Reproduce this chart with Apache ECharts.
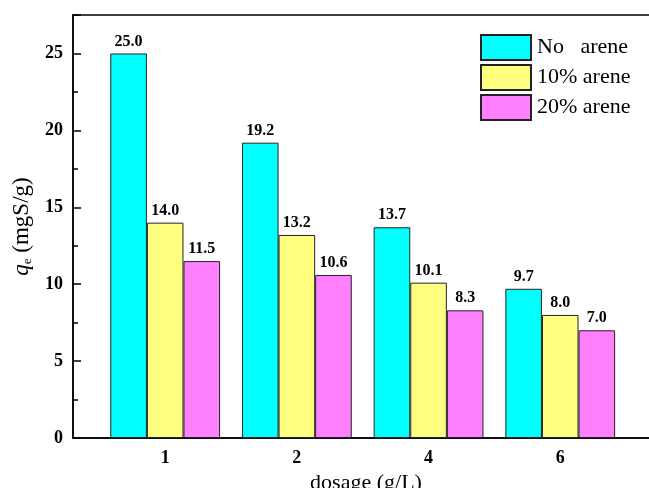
<!DOCTYPE html>
<html>
<head>
<meta charset="utf-8">
<script src="https://cdn.jsdelivr.net/npm/echarts@6/dist/echarts.min.js"></script>
<style>html,body{margin:0;padding:0;background:#fff}#c{width:649px;height:488px}</style>
</head>
<body>
<div id="c"></div>
<script>
const categories = ['1', '2', '4', '6'];
const seriesNames = ['No   arene', '10% arene', '20% arene'];
const noArene = [25.0, 19.2, 13.7, 9.7];
const arene10 = [14.0, 13.2, 10.1, 8.0];
const arene20 = [11.5, 10.6, 8.3, 7.0];
const yTicks = [0, 5, 10, 15, 20, 25];

const colors = ['#00FFFF', '#FFFF80', '#FF80FF'];
const F = 'Liberation Serif, Times New Roman, serif';
const positions = categories.map((c, i) => i + 1);

function mk(name, vals, color) {
  return {
    name: name,
    type: 'bar',
    barWidth: 36.6,
    barGap: '0%',
    data: vals.map((v, i) => [positions[i], v]),
    itemStyle: { color: color, borderColor: '#222', borderWidth: 1 },
    label: {
      show: true, position: 'top', distance: 4,
      fontFamily: F, fontWeight: 'bold', fontSize: 16, color: '#000',
      formatter: p => p.value[1].toFixed(1)
    }
  };
}

const chart = echarts.init(document.getElementById('c'));
chart.setOption({
  animation: false,
  backgroundColor: '#fff',
  grid: { left: 73, top: 15, bottom: 50, right: -10, show: true, borderColor: '#000', borderWidth: 1.5, containLabel: false, outerBoundsMode: 'none' },
  legend: {
    orient: 'vertical', left: 480, top: 34, padding: 0,
    itemWidth: 50, itemHeight: 25, itemGap: 3,
    icon: 'rect',
    textStyle: { fontFamily: F, fontSize: 22, color: '#000', padding: [0, 0, 0, 1] },
    data: seriesNames
  },
  xAxis: {
    type: 'value', min: 0.3, max: 4.75,
    name: 'dosage (g/L)', nameLocation: 'middle', nameGap: 31,
    nameTextStyle: { fontFamily: F, fontSize: 22, color: '#000' },
    axisLine: { show: true, lineStyle: { color: '#000', width: 1.5 } },
    axisTick: { show: false },
    splitLine: { show: false },
    axisLabel: {
      customValues: positions,
      formatter: v => categories[Math.round(v) - 1] || '',
      fontFamily: F, fontWeight: 'bold', fontSize: 18, color: '#000', margin: 11
    }
  },
  yAxis: {
    type: 'value', min: 0, max: 27.5, interval: 5,
    name: '{q|q}{e|e} (mgS/g)', nameLocation: 'middle', nameGap: 38,
    nameTextStyle: {
      fontFamily: F, fontSize: 23, color: '#000',
      rich: {
        q: { fontFamily: F, fontSize: 23, fontStyle: 'italic', color: '#000' },
        e: { fontFamily: F, fontSize: 13, color: '#000', padding: [12, 0, 0, 0] }
      }
    },
    axisLine: { show: true, lineStyle: { color: '#000', width: 1.5 } },
    axisTick: { show: true, inside: true, length: 8, lineStyle: { color: '#000', width: 1.5 } },
    minorTick: { show: true, splitNumber: 2, length: 5, lineStyle: { color: '#000', width: 1.5 } },
    splitLine: { show: false },
    minorSplitLine: { show: false },
    axisLabel: {
      showMaxLabel: false,
      formatter: v => (yTicks.indexOf(v) >= 0 ? String(v) : ''),
      fontFamily: F, fontWeight: 'bold', fontSize: 18, color: '#000', margin: 10
    }
  },
  series: [
    mk(seriesNames[0], noArene, colors[0]),
    mk(seriesNames[1], arene10, colors[1]),
    mk(seriesNames[2], arene20, colors[2])
  ]
});
</script>
</body>
</html>
